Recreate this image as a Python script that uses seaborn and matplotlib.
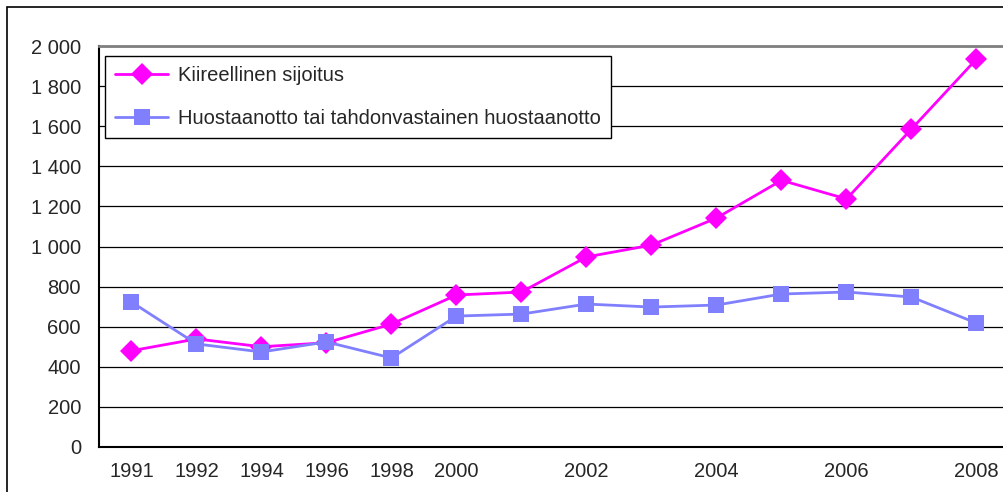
import numpy as np
import pandas as pd
import matplotlib
matplotlib.use("Agg")
import matplotlib.pyplot as plt
import seaborn as sns
from matplotlib.patches import Rectangle

years = ["1991", "1992", "1994", "1996", "1998", "2000", "2001", "2002",
         "2003", "2004", "2005", "2006", "2007", "2008"]
shown_labels = ["1991", "1992", "1994", "1996", "1998", "2000", "", "2002",
                "", "2004", "", "2006", "", "2008"]
kiireellinen = [480, 539, 500, 520, 613, 758, 773, 948, 1007, 1142, 1330, 1237, 1586, 1935]
huostaanotto = [723, 514, 474, 524, 444, 653, 663, 713, 698, 708, 763, 773, 748, 618]
series_names = ["Kiireellinen sijoitus", "Huostaanotto tai tahdonvastainen huostaanotto"]
colors = ["#FF00FF", "#8080FF"]

df = pd.DataFrame({
    "pos": list(range(len(years))) * 2,
    "value": kiireellinen + huostaanotto,
    "series": [series_names[0]] * len(years) + [series_names[1]] * len(years),
})

sns.set_style("white")
plt.rcParams["font.family"] = ["Liberation Sans", "DejaVu Sans"]

fig = plt.figure(figsize=(10.04, 4.92), dpi=100)
# outer chart frame
fig.patches.append(Rectangle((7 / 1004, -0.1), 1.2, 1 - 7 / 492 + 0.1, transform=fig.transFigure,
                             fill=False, edgecolor="black", linewidth=1.2))
ax = fig.add_axes([99 / 1004, 1 - 447 / 492, 910 / 1004, 401 / 492])

sns.lineplot(data=df, x="pos", y="value", hue="series", style="series",
             markers=["D", "s"], dashes=False, palette=colors, linewidth=2,
             markersize=11, markeredgewidth=0, ax=ax)

ax.set_xlim(-0.5, len(years) - 0.5)
ax.set_ylim(0, 2000)
ax.set_xlabel("")
ax.set_ylabel("")

yt = np.arange(0, 2001, 200)
ax.set_yticks(yt)
ax.set_yticklabels([f"{v:,}".replace(",", " ") for v in yt])
ax.yaxis.grid(True, color="black", linewidth=0.9)
ax.set_axisbelow(True)

ax.set_xticks(np.arange(-0.5, len(years), 1.0))
ax.set_xticklabels([])
ax.set_xticks(np.arange(len(years)), minor=True)
ax.set_xticklabels(shown_labels, minor=True)
ax.tick_params(axis="x", which="major", direction="out", length=6, width=1, color="black")
ax.tick_params(axis="x", which="minor", length=0, pad=11, labelsize=14.5)
ax.tick_params(axis="y", direction="out", length=6, width=1, color="black", labelsize=14.5, pad=7)

for side in ["left", "bottom"]:
    ax.spines[side].set_color("black")
    ax.spines[side].set_linewidth(1.5)
ax.spines["top"].set_color("#808080")
ax.spines["top"].set_linewidth(2)
ax.spines["right"].set_visible(False)

leg = ax.legend(loc="upper left", bbox_to_anchor=(0.007, 0.976), fontsize=14.5,
                frameon=True, fancybox=False, edgecolor="black", framealpha=1,
                borderpad=0.5, labelspacing=1.2, handlelength=2.6, handletextpad=0.5,
                borderaxespad=0)
leg.get_frame().set_linewidth(1)

fig.savefig("out.png", dpi=100)
